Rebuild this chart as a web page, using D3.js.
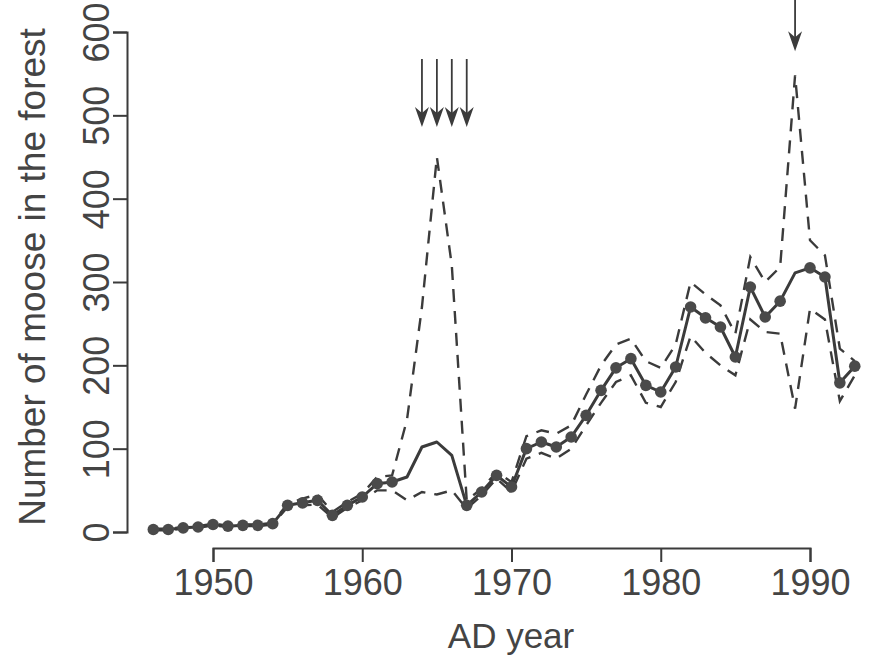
<!DOCTYPE html>
<html>
<head>
<meta charset="utf-8">
<script src="https://cdn.jsdelivr.net/npm/d3@7"></script>
<style>
  body { margin: 0; background: #fff; }
  svg text { font-family: "Liberation Sans", Arial, sans-serif; fill: #444; }
</style>
</head>
<body>
<div id="chart"></div>
<script>
const years = d3.range(1946, 1994);

// estimated number of moose (solid line with dots)
const estimate = [3, 3, 5, 6, 9, 7, 8, 8, 10, 32, 35, 38, 20, 32, 42, 58, 60, 66, 102, 108, 92, 32, 48, 68, 54,
  100, 108, 102, 114, 140, 170, 197, 208, 176, 168, 198, 270, 257, 246, 210, 294, 258, 277, 311, 317, 306, 179, 199];

// upper and lower bounds (dashed lines)
const upper = [4, 4, 6, 7, 10, 8, 9, 9, 11, 34, 40, 45, 24, 36, 46, 66, 68, 135, 270, 450, 320, 38, 52, 72, 60,
  115, 122, 118, 128, 165, 200, 225, 232, 205, 197, 225, 300, 285, 272, 238, 330, 300, 318, 548, 350, 332, 220, 205];
const lower = [2, 2, 4, 5, 8, 6, 7, 7, 9, 30, 32, 33, 17, 29, 38, 50, 50, 38, 48, 45, 50, 28, 44, 64, 48,
  88, 95, 88, 100, 128, 155, 180, 188, 155, 150, 180, 235, 215, 200, 188, 255, 240, 238, 148, 268, 255, 157, 188];

// years without a survey point (no dot), and years marked by arrows
const noDot = [1963, 1964, 1965, 1966, 1989];
const arrowYears = [1964, 1965, 1966, 1967, 1989];

const xTicks = [1950, 1960, 1970, 1980, 1990];
const yTicks = [0, 100, 200, 300, 400, 500, 600];

const width = 880, height = 669;
const ink = "#3b3b3b";

const x = d3.scaleLinear().domain([1950, 1990]).range([213, 810]);
const y = d3.scaleLinear().domain([0, 600]).range([532, 32]);

const svg = d3.select("#chart").append("svg")
  .attr("width", width)
  .attr("height", height);

// axes
const xAxis = svg.append("g")
  .attr("transform", "translate(0,548)")
  .call(d3.axisBottom(x).tickValues(xTicks).tickFormat(d3.format("d")).tickSize(14).tickPadding(7));
const yAxis = svg.append("g")
  .attr("transform", "translate(127,0)")
  .call(d3.axisLeft(y).tickValues(yTicks).tickSize(14));

[xAxis, yAxis].forEach((g) => {
  g.select(".domain").attr("stroke", ink).attr("stroke-width", 2);
  g.selectAll(".tick line").attr("stroke", ink).attr("stroke-width", 2);
  g.selectAll(".tick text").style("font-size", "36px").attr("fill", "#444");
});

// vertical tick labels, as in the original figure
yAxis.selectAll(".tick text")
  .attr("text-anchor", "middle")
  .attr("x", 0)
  .attr("y", 0)
  .attr("dy", null)
  .attr("transform", "translate(-18,0) rotate(-90)");

// axis titles
svg.append("text")
  .attr("x", 511)
  .attr("y", 648)
  .attr("text-anchor", "middle")
  .style("font-size", "35px")
  .text("AD year");

svg.append("text")
  .attr("transform", "translate(45,277) rotate(-90)")
  .attr("text-anchor", "middle")
  .style("font-size", "37px")
  .text("Number of moose in the forest");

const line = d3.line()
  .x((d) => x(d[0]))
  .y((d) => y(d[1]));

// dashed bounds
[upper, lower].forEach((series) => {
  svg.append("path")
    .datum(years.map((yr, i) => [yr, series[i]]))
    .attr("d", line)
    .attr("fill", "none")
    .attr("stroke", ink)
    .attr("stroke-width", 2.4)
    .attr("stroke-dasharray", "13,9");
});

// solid estimate line
const est = years.map((yr, i) => [yr, estimate[i]]);
svg.append("path")
  .datum(est)
  .attr("d", line)
  .attr("fill", "none")
  .attr("stroke", ink)
  .attr("stroke-width", 3)
  .attr("stroke-linejoin", "round");

svg.selectAll(".dot")
  .data(est.filter((d) => noDot.indexOf(d[0]) < 0))
  .enter()
  .append("circle")
  .attr("class", "dot")
  .attr("cx", (d) => x(d[0]))
  .attr("cy", (d) => y(d[1]))
  .attr("r", 5.8)
  .attr("fill", "#4a4a4a");

// arrows above the peaks
const arrows = svg.selectAll(".arrow")
  .data(arrowYears)
  .enter()
  .append("g")
  .attr("class", "arrow")
  .attr("transform", (d) => {
    const tip = d === 1989 ? y(upper[years.indexOf(1989)]) - 24 : y(450) - 30;
    return "translate(" + x(d) + "," + tip + ")";
  });

arrows.append("line")
  .attr("x1", 0).attr("x2", 0)
  .attr("y1", (d) => (d === 1989 ? -60 : -68))
  .attr("y2", -6)
  .attr("stroke", ink)
  .attr("stroke-width", 1.8);

arrows.append("path")
  .attr("d", "M0,0 L-7,-20 L0,-14 L7,-20 Z")
  .attr("fill", ink);
</script>
</body>
</html>
